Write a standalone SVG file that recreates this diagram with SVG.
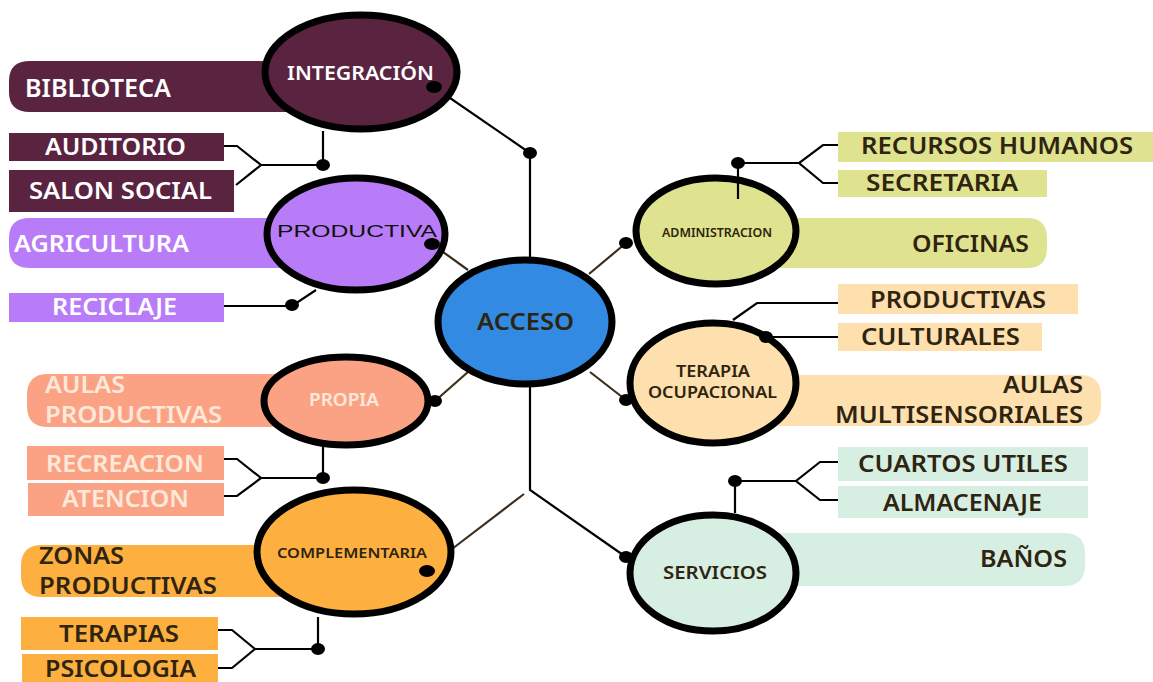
<svg xmlns="http://www.w3.org/2000/svg" width="1153" height="682" viewBox="0 0 1153 682">
<style>
.t{font-family:"Noto Sans","Open Sans","DejaVu Sans",sans-serif;font-weight:600}
.a{font-family:"Liberation Sans",Arial,sans-serif}
.w{fill:#ffffff}
.d{fill:#2e2410}
.ln{fill:none;stroke:#000;stroke-width:2.2}
.sp{fill:none;stroke:#3d2d1c;stroke-width:2.2}
.dot{fill:#000}
.ring{stroke:#000;stroke-width:7}
</style>
<rect width="1153" height="682" fill="#fff"/>
<g id="connectors">
<path class="ln" d="M434,87 L530,153 L530,258"/>
<path class="ln" d="M224,146 H237 L261,165 L236,185 M261,165 H323 V131"/>
<path class="ln" d="M224,306 H292 L316,290"/>
<path class="sp" d="M432,244 L468,270"/>
<path class="sp" d="M435,401 L468,372"/>
<path class="ln" d="M224,459 H237 L261,478 L237,496 H224 M261,478 H323 V446"/>
<path class="sp" d="M452,549 L524,494"/>
<path class="ln" d="M218,630 H232 L255,649 L232,668 H218 M255,649 H318 V617"/>
<path class="ln" d="M530,386 V490 L626,557"/>
<path class="sp" d="M589,274 L626,243"/>
<path class="ln" d="M838,145 H823 L799,163 L823,183 H838 M799,163 H738"/>
<path class="sp" d="M590,372 L626,400"/>
<path class="ln" d="M733,320 L757,303 H838 M766,337 H838"/>
<path class="ln" d="M838,462 H820 L796,481 L820,500 H838 M796,481 H735 V513"/>
<ellipse class="dot" cx="530" cy="153" rx="7" ry="6"/>
<ellipse class="dot" cx="323" cy="165" rx="7" ry="6"/>
<ellipse class="dot" cx="292" cy="305" rx="7" ry="6"/>
<ellipse class="dot" cx="323" cy="478" rx="7" ry="6"/>
<ellipse class="dot" cx="318" cy="649" rx="7" ry="6"/>
<ellipse class="dot" cx="738" cy="163" rx="7" ry="6"/>
<ellipse class="dot" cx="735" cy="481" rx="7" ry="6"/>
</g>
<g id="integracion">
<path d="M30,61 H300 V112 H30 Q9,112 9,92 V81 Q9,61 30,61 Z" fill="#5a2441"/>
<text class="t w" x="25" y="97" font-size="25" textLength="146" lengthAdjust="spacingAndGlyphs">BIBLIOTECA</text>
<rect x="9" y="133" width="215" height="28" fill="#5a2441"/>
<text class="t w" x="45" y="155" font-size="24" textLength="141" lengthAdjust="spacingAndGlyphs">AUDITORIO</text>
<rect x="9" y="170" width="225" height="42" fill="#5a2441"/>
<text class="t w" x="29" y="199" font-size="24" textLength="183" lengthAdjust="spacingAndGlyphs">SALON SOCIAL</text>
<ellipse class="ring" cx="361" cy="72" rx="96" ry="57" fill="#5a2441" stroke-width="8"/>
<text class="t w" x="287" y="80" font-size="20" textLength="147" lengthAdjust="spacingAndGlyphs">INTEGRACIÓN</text>
<ellipse class="dot" cx="434" cy="87" rx="8" ry="6"/>
</g>
<g id="productiva">
<path d="M30,218 H300 V268 H30 Q9,268 9,248 V238 Q9,218 30,218 Z" fill="#b97cf8"/>
<text class="t w" x="14" y="252" font-size="24" textLength="175" lengthAdjust="spacingAndGlyphs">AGRICULTURA</text>
<rect x="9" y="293" width="215" height="29" fill="#b97cf8"/>
<text class="t w" x="52" y="315" font-size="23" textLength="125" lengthAdjust="spacingAndGlyphs">RECICLAJE</text>
<ellipse class="ring" cx="356" cy="234" rx="89" ry="56" fill="#b97cf8"/>
<text class="a" x="277" y="237" font-size="17" fill="#111" textLength="160" lengthAdjust="spacingAndGlyphs">PRODUCTIVA</text>
<ellipse class="dot" cx="432" cy="244" rx="8" ry="6"/>
</g>
<g id="propia">
<path d="M48,374 H300 V427 H48 Q27,427 27,406 V395 Q27,374 48,374 Z" fill="#fca284"/>
<text class="t" fill="#fde9da" x="45" y="393" font-size="23" textLength="80" lengthAdjust="spacingAndGlyphs">AULAS</text>
<text class="t" fill="#fde9da" x="45" y="423" font-size="23" textLength="177" lengthAdjust="spacingAndGlyphs">PRODUCTIVAS</text>
<rect x="27" y="446" width="197" height="34" fill="#fca284"/>
<text class="t" fill="#fde9da" x="46" y="472" font-size="24" textLength="158" lengthAdjust="spacingAndGlyphs">RECREACION</text>
<rect x="28" y="483" width="196" height="33" fill="#fca284"/>
<text class="t" fill="#fde9da" x="62" y="507" font-size="24" textLength="127" lengthAdjust="spacingAndGlyphs">ATENCION</text>
<ellipse class="ring" cx="346" cy="401" rx="82" ry="44" fill="#fca284"/>
<text class="t" fill="#fde9da" x="309" y="406" font-size="17" textLength="70" lengthAdjust="spacingAndGlyphs">PROPIA</text>
<ellipse class="dot" cx="435" cy="401" rx="7" ry="6"/>
</g>
<g id="complementaria">
<path d="M42,545 H300 V597 H42 Q21,597 21,576 V566 Q21,545 42,545 Z" fill="#fdb03f"/>
<text class="t d" x="39" y="564" font-size="24" textLength="85" lengthAdjust="spacingAndGlyphs">ZONAS</text>
<text class="t d" x="39" y="594" font-size="24" textLength="178" lengthAdjust="spacingAndGlyphs">PRODUCTIVAS</text>
<rect x="21" y="617" width="197" height="33" fill="#fdb03f"/>
<text class="t d" x="59" y="642" font-size="24" textLength="120" lengthAdjust="spacingAndGlyphs">TERAPIAS</text>
<rect x="22" y="654" width="196" height="28" fill="#fdb03f"/>
<text class="t d" x="45" y="677" font-size="24" textLength="151" lengthAdjust="spacingAndGlyphs">PSICOLOGIA</text>
<ellipse class="ring" cx="354" cy="552" rx="97" ry="62" fill="#fdb03f" stroke-width="8"/>
<text class="t d" x="277" y="558" font-size="14" textLength="150" lengthAdjust="spacingAndGlyphs">COMPLEMENTARIA</text>
<ellipse class="dot" cx="427" cy="571" rx="8" ry="6"/>
</g>
<g id="acceso">
<ellipse class="ring" cx="525" cy="322" rx="87" ry="62" fill="#338ae2" stroke-width="6"/>
<text class="t d" x="477" y="330" font-size="23" textLength="97" lengthAdjust="spacingAndGlyphs">ACCESO</text>
</g>
<g id="administracion">
<rect x="838" y="132" width="315" height="30" fill="#dfe28f"/>
<text class="t d" x="861" y="154" font-size="24" textLength="272" lengthAdjust="spacingAndGlyphs">RECURSOS HUMANOS</text>
<rect x="838" y="170" width="209" height="27" fill="#dfe28f"/>
<text class="t d" x="866" y="191" font-size="23" textLength="152" lengthAdjust="spacingAndGlyphs">SECRETARIA</text>
<path d="M740,218 H1027 Q1047,218 1047,238 V248 Q1047,268 1027,268 H740 Z" fill="#dfe28f"/>
<text class="t d" x="912" y="252" font-size="24" textLength="117" lengthAdjust="spacingAndGlyphs">OFICINAS</text>
<ellipse class="ring" cx="716" cy="231" rx="80" ry="53" fill="#dfe28f"/>
<text class="t d" x="662" y="237" font-size="12" textLength="110" lengthAdjust="spacingAndGlyphs">ADMINISTRACION</text>
<path class="ln" d="M738,163 V199"/>
<ellipse class="dot" cx="626" cy="243" rx="7" ry="6"/>
</g>
<g id="terapia">
<rect x="838" y="284" width="240" height="30" fill="#fde0ae"/>
<text class="t d" x="870" y="308" font-size="24" textLength="176" lengthAdjust="spacingAndGlyphs">PRODUCTIVAS</text>
<rect x="838" y="323" width="204" height="28" fill="#fde0ae"/>
<text class="t d" x="861" y="345" font-size="24" textLength="159" lengthAdjust="spacingAndGlyphs">CULTURALES</text>
<path d="M740,375 H1080 Q1101,375 1101,396 V405 Q1101,426 1080,426 H740 Z" fill="#fde0ae"/>
<text class="t d" x="1003" y="393" font-size="24" textLength="80" lengthAdjust="spacingAndGlyphs">AULAS</text>
<text class="t d" x="835" y="423" font-size="24" textLength="248" lengthAdjust="spacingAndGlyphs">MULTISENSORIALES</text>
<ellipse class="ring" cx="713" cy="383" rx="83" ry="60" fill="#fde0ae"/>
<text class="t d" x="676" y="377" font-size="16" textLength="74" lengthAdjust="spacingAndGlyphs">TERAPIA</text>
<text class="t d" x="648" y="398" font-size="16" textLength="129" lengthAdjust="spacingAndGlyphs">OCUPACIONAL</text>
<ellipse class="dot" cx="766" cy="337" rx="7" ry="6"/>
<ellipse class="dot" cx="626" cy="400" rx="7" ry="6"/>
</g>
<g id="servicios">
<rect x="838" y="447" width="250" height="34" fill="#d6efe2"/>
<text class="t d" x="858" y="472" font-size="24" textLength="210" lengthAdjust="spacingAndGlyphs">CUARTOS UTILES</text>
<rect x="838" y="486" width="250" height="32" fill="#d6efe2"/>
<text class="t d" x="883" y="511" font-size="24" textLength="159" lengthAdjust="spacingAndGlyphs">ALMACENAJE</text>
<path d="M740,533 H1064 Q1085,533 1085,554 V565 Q1085,586 1064,586 H740 Z" fill="#d6efe2"/>
<text class="t d" x="980" y="567" font-size="24" textLength="87" lengthAdjust="spacingAndGlyphs">BAÑOS</text>
<ellipse class="ring" cx="713" cy="573" rx="83" ry="58" fill="#d6efe2"/>
<text class="t d" x="663" y="579" font-size="17" textLength="104" lengthAdjust="spacingAndGlyphs">SERVICIOS</text>
<ellipse class="dot" cx="626" cy="557" rx="7" ry="6"/>
</g>
</svg>
